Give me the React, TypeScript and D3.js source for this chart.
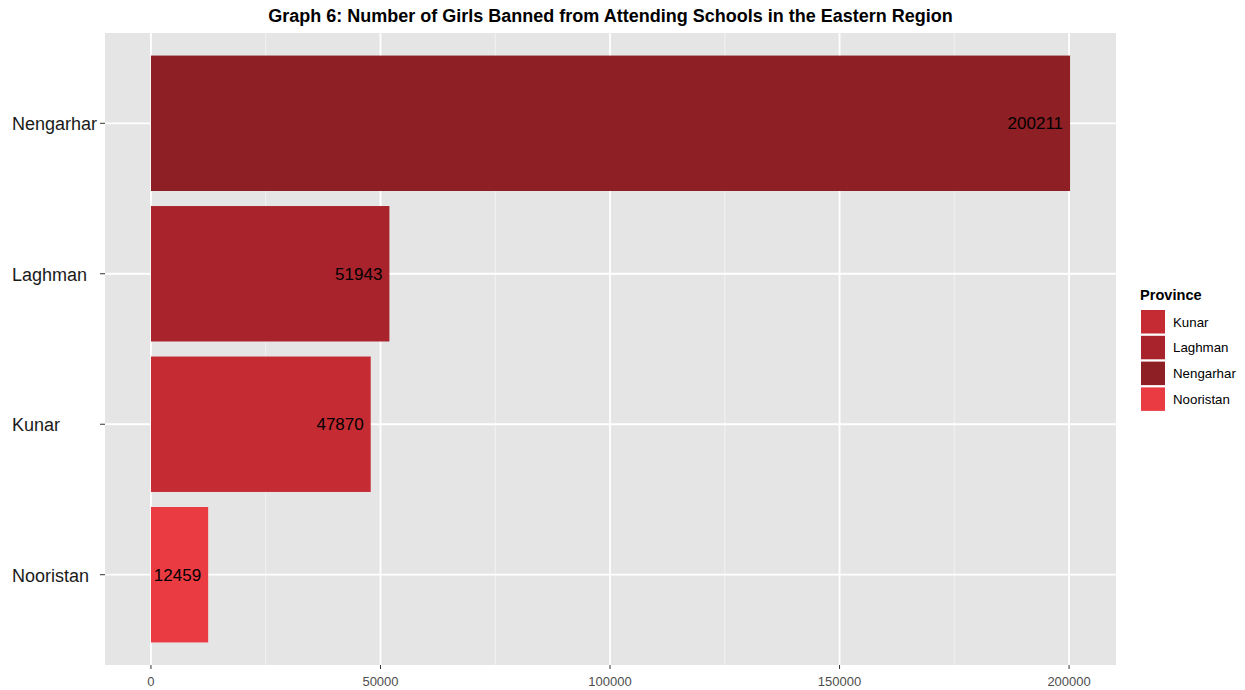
import React from "react";
import * as d3 from "d3";

const provinces = ["Nengarhar", "Laghman", "Kunar", "Nooristan"];
const values = [200211, 51943, 47870, 12459];
const legendOrder = ["Kunar", "Laghman", "Nengarhar", "Nooristan"];
const colors: Record<string, string> = {
  Kunar: "#c52b33",
  Laghman: "#a9232c",
  Nengarhar: "#8e1f25",
  Nooristan: "#ea3b43",
};
const xTicks = [0, 50000, 100000, 150000, 200000];
const xMinor = [25000, 75000, 125000, 175000];
const title = "Graph 6: Number of Girls Banned from Attending Schools in the Eastern Region";

export default function App() {
  const W = 1245, H = 690;
  const left = 105, right = 1116, top = 33, bottom = 665;
  const maxV = d3.max(values)!;
  const pad = maxV * 0.05;
  const x = d3.scaleLinear().domain([-pad, maxV + pad]).range([left, right]);
  const y = d3.scaleBand<string>().domain(provinces).range([top, bottom]).paddingInner(0.1).paddingOuter(0.15);
  const font = "'Liberation Sans', Arial, Helvetica, sans-serif";
  return (
    <div style={{ position: "absolute", left: 0, top: 0 }}>
      <svg width={W} height={H} style={{ display: "block", background: "#fff" }} fontFamily={font}>
        <rect x={left} y={top} width={right - left} height={bottom - top} fill="#e5e5e5" />
        {xMinor.map((t) => (
          <line key={"mi" + t} x1={x(t)} x2={x(t)} y1={top} y2={bottom} stroke="#f2f2f2" strokeWidth={1} />
        ))}
        {provinces.map((p) => (
          <line key={"gy" + p} x1={left} x2={right} y1={y(p)! + y.bandwidth() / 2} y2={y(p)! + y.bandwidth() / 2} stroke="#fff" strokeWidth={1.8} />
        ))}
        {xTicks.map((t) => (
          <line key={"ma" + t} x1={x(t)} x2={x(t)} y1={top} y2={bottom} stroke="#fff" strokeWidth={1.8} />
        ))}
        {provinces.map((p, i) => (
          <rect key={"b" + p} x={x(0)} y={y(p)!} width={x(values[i]) - x(0)} height={y.bandwidth()} fill={colors[p]} />
        ))}
        {provinces.map((p, i) => (
          <text key={"l" + p} x={x(values[i]) - 7} y={y(p)! + y.bandwidth() / 2} dy="0.36em" textAnchor="end" fontSize={17} fill="#000">
            {values[i]}
          </text>
        ))}
        {provinces.map((p) => (
          <g key={"yt" + p}>
            <line x1={left - 5} x2={left} y1={y(p)! + y.bandwidth() / 2} y2={y(p)! + y.bandwidth() / 2} stroke="#333" strokeWidth={1} />
            <text x={12} y={y(p)! + y.bandwidth() / 2} dy="0.4em" fontSize={18} fill="#1a1a1a">{p}</text>
          </g>
        ))}
        {xTicks.map((t) => (
          <g key={"xt" + t}>
            <line x1={x(t)} x2={x(t)} y1={bottom} y2={bottom + 4} stroke="#333" strokeWidth={1} />
            <text x={x(t)} y={bottom + 16} dy="0.35em" textAnchor="middle" fontSize={13} fill="#4d4d4d">{t}</text>
          </g>
        ))}
        <text x={(left + right) / 2} y={16} dy="0.35em" textAnchor="middle" fontSize={18} fontWeight="bold" fill="#000">{title}</text>
        <text x={1140} y={295} dy="0.35em" fontSize={14.6} fontWeight="bold" fill="#000">Province</text>
        {legendOrder.map((p, i) => (
          <g key={"lg" + p}>
            <rect x={1141} y={310 + i * 25.8} width={24} height={23.5} fill={colors[p]} />
            <text x={1173} y={310 + i * 25.8 + 12} dy="0.35em" fontSize={13.3} fill="#000">{p}</text>
          </g>
        ))}
      </svg>
    </div>
  );
}
